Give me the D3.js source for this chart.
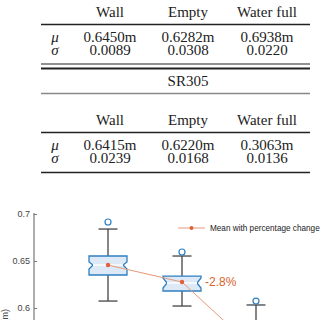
<!DOCTYPE html>
<html>
<head>
<meta charset="utf-8">
<script src="https://cdn.jsdelivr.net/npm/d3@7/dist/d3.min.js"></script>
<style>
  body { margin: 0; background: #fff; }
  svg { display: block; }
</style>
</head>
<body>
<script>
// Tableaux
const columns = ['Wall', 'Empty', 'Water full']
const muTop = ['0.6450m', '0.6282m', '0.6938m']
const sigmaTop = ['0.0089', '0.0308', '0.0220']
const tableTitle = 'SR305'
const muBottom = ['0.6415m', '0.6220m', '0.3063m']
const sigmaBottom = ['0.0239', '0.0168', '0.0136']

// Boxplot
const boxCats = ['Wall', 'Empty', 'Water full']
const q1 = [0.6351, 0.6181, 0.545]
const q3 = [0.6553, 0.6340, 0.570]
const medians = [0.6457, 0.6266, 0.556]
const notchLo = [0.6415, 0.6213, 0.550]
const notchHi = [0.6489, 0.6319, 0.562]
const whiskLo = [0.6074, 0.6021, 0.510]
const whiskHi = [0.6840, 0.6553, 0.6032]
const outliers = [[0.6915], [0.6596], [0.6074]]
const means = [0.6457, 0.6276, 0.555]
const pctLabels = ['', '-2.8%', '']
const yTicks = [0.6, 0.65, 0.7]
const legendLabel = 'Mean with percentage change'
const yLabel = 'Distance (m)'

const WIDTH = 320
const HEIGHT = 320
const serif = '"Liberation Serif", "Times New Roman", serif'
const sans = '"Liberation Sans", Arial, Helvetica, sans-serif'

const svg = d3.select('body')
  .append('svg')
  .attr('width', WIDTH)
  .attr('height', HEIGHT)

// --- les deux tableaux ---
const colX = d3.scaleOrdinal().domain(columns).range([110, 188, 267])

function drawTable(top, mu, sigma) {
  const g = svg.append('g').attr('transform', `translate(0,${top})`)
    .attr('font-family', serif).attr('font-size', 15).attr('fill', '#222')

  g.selectAll('text.head').data(columns).enter().append('text')
    .attr('x', d => colX(d)).attr('y', 17)
    .attr('text-anchor', 'middle').text(d => d)

  g.append('line').attr('x1', 41).attr('x2', 310).attr('y1', 24.5).attr('y2', 24.5)
    .attr('stroke', '#222').attr('stroke-width', 1.3)

  g.append('text').attr('x', 55).attr('y', 42).attr('text-anchor', 'middle')
    .attr('font-style', 'italic').text('μ')
  g.append('text').attr('x', 55).attr('y', 55).attr('text-anchor', 'middle')
    .attr('font-style', 'italic').text('σ')

  g.selectAll('text.mu').data(mu).enter().append('text')
    .attr('x', (d, i) => colX(columns[i])).attr('y', 42)
    .attr('text-anchor', 'middle').text(d => d)
  g.selectAll('text.sigma').data(sigma).enter().append('text')
    .attr('x', (d, i) => colX(columns[i])).attr('y', 55)
    .attr('text-anchor', 'middle').text(d => d)
  return g
}

const t1 = drawTable(0, muTop, sigmaTop)
t1.append('line').attr('x1', 41).attr('x2', 310).attr('y1', 64).attr('y2', 64)
  .attr('stroke', '#222').attr('stroke-width', 1.2)
t1.append('line').attr('x1', 41).attr('x2', 310).attr('y1', 68.5).attr('y2', 68.5)
  .attr('stroke', '#222').attr('stroke-width', 2)
t1.append('text').attr('x', 188).attr('y', 86).attr('text-anchor', 'middle').text(tableTitle)
t1.append('line').attr('x1', 41).attr('x2', 310).attr('y1', 93.5).attr('y2', 93.5)
  .attr('stroke', '#888').attr('stroke-width', 1.4)

const t2 = drawTable(108, muBottom, sigmaBottom)
t2.append('line').attr('x1', 41).attr('x2', 310).attr('y1', 64.5).attr('y2', 64.5)
  .attr('stroke', '#222').attr('stroke-width', 1.3)

// --- boxplot ---
const x = d3.scalePoint().domain(boxCats).range([108, 256])
const y = d3.scaleLinear().domain([0.6, 0.7]).range([308, 214])

const axis = d3.axisLeft(y)
  .tickValues(yTicks)
  .tickFormat(d => String(d))
  .tickSize(-3)
  .tickSizeOuter(0)
  .tickPadding(4)

const gAxis = svg.append('g').attr('transform', 'translate(34,0)').call(axis)
gAxis.select('.domain').remove()
gAxis.selectAll('line').attr('stroke', '#777')
gAxis.selectAll('text').attr('font-family', sans).attr('font-size', 9).attr('fill', '#444')
gAxis.append('line').attr('x1', 0).attr('x2', 0)
  .attr('y1', y(0.7) - 1).attr('y2', y(0.55))
  .attr('stroke', '#777').attr('stroke-width', 1.2)

svg.append('text')
  .attr('transform', `translate(8,${y(0.6) + 1}) rotate(-90)`)
  .attr('text-anchor', 'end')
  .attr('font-family', sans).attr('font-size', 9).attr('fill', '#444')
  .text(yLabel)

const half = 19, notchHalf = 15, capHalf = 9.5
const boxes = boxCats.map((c, i) => ({
  c, i, q1: q1[i], q3: q3[i], med: medians[i], nLo: notchLo[i], nHi: notchHi[i],
  wLo: whiskLo[i], wHi: whiskHi[i], out: outliers[i]
}))

const gBox = svg.append('g')
boxes.forEach(b => {
  const cx = x(b.c)
  // moustaches
  gBox.append('line').attr('x1', cx).attr('x2', cx).attr('y1', y(b.wHi)).attr('y2', y(b.q3))
    .attr('stroke', '#444').attr('stroke-width', 1.3)
  gBox.append('line').attr('x1', cx).attr('x2', cx).attr('y1', y(b.q1)).attr('y2', y(b.wLo))
    .attr('stroke', '#444').attr('stroke-width', 1.3)
  gBox.append('line').attr('x1', cx - capHalf).attr('x2', cx + capHalf).attr('y1', y(b.wHi)).attr('y2', y(b.wHi))
    .attr('stroke', '#444').attr('stroke-width', 1.3)
  gBox.append('line').attr('x1', cx - capHalf).attr('x2', cx + capHalf).attr('y1', y(b.wLo)).attr('y2', y(b.wLo))
    .attr('stroke', '#444').attr('stroke-width', 1.3)
  // boite avec encoche
  const pts = [
    [cx - half, y(b.q3)], [cx + half, y(b.q3)], [cx + half, y(b.nHi)],
    [cx + notchHalf, y(b.med)], [cx + half, y(b.nLo)], [cx + half, y(b.q1)],
    [cx - half, y(b.q1)], [cx - half, y(b.nLo)], [cx - notchHalf, y(b.med)],
    [cx - half, y(b.nHi)]
  ]
  gBox.append('path').attr('d', d3.line()(pts) + 'Z')
    .attr('fill', '#dde9f6').attr('stroke', '#2f7fc1').attr('stroke-width', 1.3)
  gBox.append('line').attr('x1', cx - notchHalf).attr('x2', cx + notchHalf)
    .attr('y1', y(b.med)).attr('y2', y(b.med))
    .attr('stroke', '#f4f8fc').attr('stroke-width', 2)
  // valeurs aberrantes
  gBox.selectAll(null).data(b.out).enter().append('circle')
    .attr('cx', cx).attr('cy', d => y(d)).attr('r', 3)
    .attr('fill', '#fff').attr('stroke', '#2f7fc1').attr('stroke-width', 1.2)
})

// ligne des moyennes
svg.append('path')
  .datum(means)
  .attr('d', d3.line().x((d, i) => x(boxCats[i])).y(d => y(d)))
  .attr('fill', 'none').attr('stroke', '#e39a78').attr('stroke-width', 1)
svg.selectAll('circle.mean').data(means).enter().append('circle')
  .attr('class', 'mean')
  .attr('cx', (d, i) => x(boxCats[i])).attr('cy', d => y(d)).attr('r', 2.2)
  .attr('fill', '#e0603a')
svg.selectAll('text.pct').data(pctLabels).enter().append('text')
  .attr('class', 'pct')
  .attr('x', (d, i) => x(boxCats[i]) + half + 4).attr('y', (d, i) => y(means[i]))
  .attr('dy', '0.35em')
  .attr('font-family', sans).attr('font-size', 12).attr('fill', '#d9622e')
  .text(d => d)

// legende
svg.append('line').attr('x1', 178).attr('x2', 205).attr('y1', 228).attr('y2', 228)
  .attr('stroke', '#e39a78').attr('stroke-width', 1)
svg.append('circle').attr('cx', 191.5).attr('cy', 228).attr('r', 2)
  .attr('fill', '#e0603a')
svg.append('text').attr('x', 210).attr('y', 228).attr('dy', '0.35em')
  .attr('font-family', sans).attr('font-size', 8.2).attr('fill', '#222')
  .text(legendLabel)
</script>
</body>
</html>
